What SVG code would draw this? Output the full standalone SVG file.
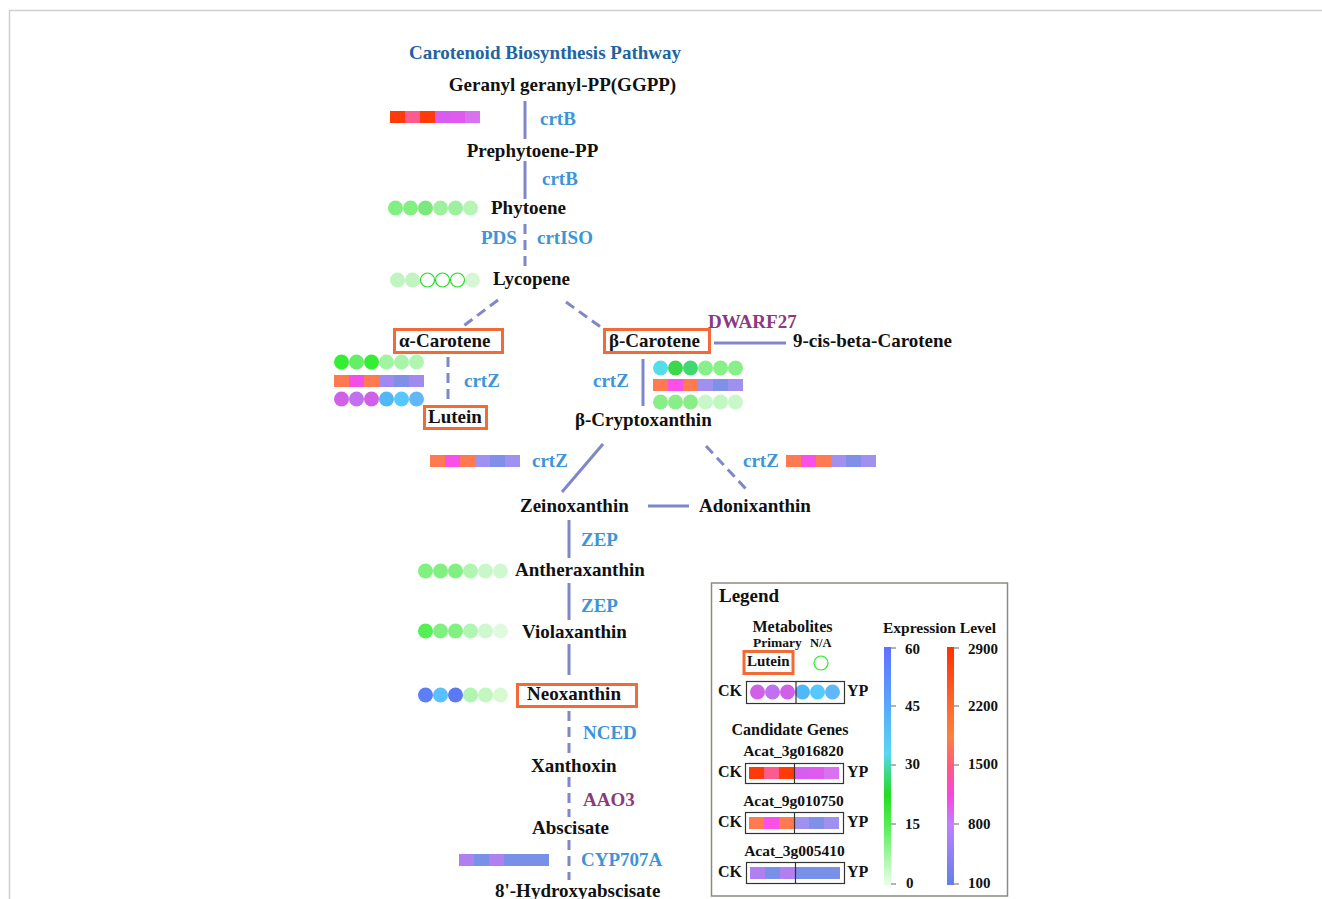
<svg xmlns="http://www.w3.org/2000/svg" width="1322" height="899" viewBox="0 0 1322 899">
<defs>
<style>
.n{font-family:"Liberation Serif",serif;font-weight:bold;font-size:19px;fill:#111}
.e{font-family:"Liberation Serif",serif;font-weight:bold;font-size:19px;fill:#3d95d8}
.p{font-family:"Liberation Serif",serif;font-weight:bold;font-size:19px;fill:#8b3a80}
.l{font-family:"Liberation Serif",serif;font-weight:bold;fill:#111}
.c{stroke:#7f87c8;stroke-width:3;fill:none}
.d{stroke-dasharray:10 6}
.box{fill:none;stroke:#f26a35;stroke-width:3}
.lb{fill:none;stroke:#333;stroke-width:1.2}
.tk{stroke:#666;stroke-width:1}
</style>
<linearGradient id="gb" x1="0" y1="0" x2="0" y2="1">
<stop offset="0" stop-color="#6070ff"/>
<stop offset="0.25" stop-color="#58a8ff"/>
<stop offset="0.45" stop-color="#58d8f0"/>
<stop offset="0.52" stop-color="#40d890"/>
<stop offset="0.62" stop-color="#22dd22"/>
<stop offset="0.75" stop-color="#55ee55"/>
<stop offset="1" stop-color="#eaffea"/>
</linearGradient>
<linearGradient id="gr" x1="0" y1="0" x2="0" y2="1">
<stop offset="0" stop-color="#ff3000"/>
<stop offset="0.25" stop-color="#ff6a30"/>
<stop offset="0.38" stop-color="#ff8040"/>
<stop offset="0.5" stop-color="#ff5a80"/>
<stop offset="0.62" stop-color="#f845e0"/>
<stop offset="0.75" stop-color="#c080ff"/>
<stop offset="1" stop-color="#6080e8"/>
</linearGradient>
</defs>
<rect width="1322" height="899" fill="#fff"/>
<path d="M9.5 899 V10.5 H1322" fill="none" stroke="#cfcfcf" stroke-width="1.5"/>

<text x="545" y="59" text-anchor="middle" style="font-family:'Liberation Serif',serif;font-weight:bold;font-size:19px;fill:#1e64a0">Carotenoid Biosynthesis Pathway</text>

<g id="connectors">
<line class="c" x1="525" y1="101" x2="525" y2="139"/>
<line class="c" x1="525" y1="161" x2="525" y2="199"/>
<line class="c d" x1="525" y1="224" x2="525" y2="267"/>
<line class="c d" x1="498" y1="300" x2="462" y2="327"/>
<line class="c d" x1="566" y1="302" x2="602" y2="328"/>
<line class="c d" x1="448" y1="357" x2="448" y2="400"/>
<line class="c" x1="714" y1="343" x2="786" y2="343"/>
<line class="c" x1="643" y1="359" x2="643" y2="406"/>
<line class="c" x1="603" y1="444" x2="562" y2="492"/>
<line class="c d" x1="706" y1="446" x2="746" y2="489"/>
<line class="c" x1="648" y1="506" x2="689" y2="506"/>
<line class="c" x1="569" y1="520" x2="569" y2="558"/>
<line class="c" x1="569" y1="583" x2="569" y2="620"/>
<line class="c" x1="569" y1="644" x2="569" y2="675"/>
<line class="c d" x1="569" y1="711" x2="569" y2="755"/>
<line class="c d" x1="569" y1="777" x2="569" y2="817"/>
<line class="c d" x1="569" y1="840" x2="569" y2="880"/>
</g>

<g id="enzymes">
<text class="e" x="540" y="125">crtB</text>
<text class="e" x="542" y="185">crtB</text>
<text class="e" x="481" y="244">PDS</text>
<text class="e" x="537" y="244">crtISO</text>
<text class="e" x="464" y="387">crtZ</text>
<text class="p" x="708" y="328">DWARF27</text>
<text class="e" x="593" y="387">crtZ</text>
<text class="e" x="532" y="467">crtZ</text>
<text class="e" x="743" y="467">crtZ</text>
<text class="e" x="581" y="546">ZEP</text>
<text class="e" x="581" y="612">ZEP</text>
<text class="e" x="583" y="739">NCED</text>
<text class="p" x="583" y="806">AAO3</text>
<text class="e" x="581" y="866">CYP707A</text>
</g>

<g id="node-ggpp">
<text class="n" x="562.5" y="91" text-anchor="middle">Geranyl geranyl-PP(GGPP)</text>
<g transform="translate(390,111)">
<rect x="0" width="15" height="12" fill="#ff3a0a"/><rect x="15" width="15" height="12" fill="#ff5a8c"/><rect x="30" width="15" height="12" fill="#ff3b08"/><rect x="45" width="15" height="12" fill="#d85cf0"/><rect x="60" width="15" height="12" fill="#e15af0"/><rect x="75" width="15" height="12" fill="#d872f0"/>
</g>
</g>

<g id="node-prephytoene">
<text class="n" x="532.5" y="157" text-anchor="middle">Prephytoene-PP</text>
</g>

<g id="node-phytoene">
<text class="n" x="491" y="214">Phytoene</text>
<g transform="translate(395.5,208)">
<circle cx="0" r="7.5" fill="#80f080"/><circle cx="15" r="7.5" fill="#80f080"/><circle cx="30" r="7.5" fill="#7ae87a"/><circle cx="45" r="7.5" fill="#9df09d"/><circle cx="60" r="7.5" fill="#9df09d"/><circle cx="75" r="7.5" fill="#b5f5b5"/>
</g>
</g>

<g id="node-lycopene">
<text class="n" x="493" y="285">Lycopene</text>
<g transform="translate(397.5,280)">
<circle cx="0" r="7.5" fill="#c0f5c0"/><circle cx="15" r="7.5" fill="#c0f5c0"/><circle cx="30" r="7" fill="none" stroke="#22dd22" stroke-width="1.2"/><circle cx="45" r="7" fill="none" stroke="#22dd22" stroke-width="1.2"/><circle cx="60" r="7" fill="none" stroke="#22dd22" stroke-width="1.2"/><circle cx="75" r="7.5" fill="#d5f7d5"/>
</g>
</g>

<g id="node-alpha-carotene">
<rect class="box" x="394.5" y="329.5" width="108" height="23"/>
<text class="n" x="399" y="347">α-Carotene</text>
<g transform="translate(341.5,362)">
<circle cx="0" r="7.5" fill="#33ee33"/><circle cx="15" r="7.5" fill="#66ee66"/><circle cx="30" r="7.5" fill="#33ee33"/><circle cx="45" r="7.5" fill="#a0f5a0"/><circle cx="60" r="7.5" fill="#a8f5a8"/><circle cx="75" r="7.5" fill="#b0f5b0"/>
</g>
<g transform="translate(334,375)">
<rect x="0" width="15" height="12" fill="#ff7a50"/><rect x="15" width="15" height="12" fill="#f050e8"/><rect x="30" width="15" height="12" fill="#ff7a50"/><rect x="45" width="15" height="12" fill="#a08af0"/><rect x="60" width="15" height="12" fill="#8090e8"/><rect x="75" width="15" height="12" fill="#a08af0"/>
</g>
<g transform="translate(341.5,399)">
<circle cx="0" r="7.5" fill="#d060e8"/><circle cx="15" r="7.5" fill="#c070f0"/><circle cx="30" r="7.5" fill="#d060e8"/><circle cx="45" r="7.5" fill="#50b8f8"/><circle cx="60" r="7.5" fill="#55c8ff"/><circle cx="75" r="7.5" fill="#60b8f8"/>
</g>
</g>

<g id="node-lutein">
<rect class="box" x="424.5" y="406.5" width="62" height="22"/>
<text class="n" x="428" y="423">Lutein</text>
</g>

<g id="node-beta-carotene">
<rect class="box" x="604.5" y="329.5" width="105" height="23"/>
<text class="n" x="609" y="347">β-Carotene</text>
<g transform="translate(660.5,368)">
<circle cx="0" r="7.5" fill="#55ddee"/><circle cx="15" r="7.5" fill="#3ad84a"/><circle cx="30" r="7.5" fill="#40d870"/><circle cx="45" r="7.5" fill="#88f088"/><circle cx="60" r="7.5" fill="#88f088"/><circle cx="75" r="7.5" fill="#88f088"/>
</g>
<g transform="translate(653,379)">
<rect x="0" width="15" height="12" fill="#ff7a50"/><rect x="15" width="15" height="12" fill="#f850e8"/><rect x="30" width="15" height="12" fill="#ff7a50"/><rect x="45" width="15" height="12" fill="#a090f0"/><rect x="60" width="15" height="12" fill="#8090e8"/><rect x="75" width="15" height="12" fill="#a090f0"/>
</g>
<g transform="translate(660.5,402)">
<circle cx="0" r="7.5" fill="#88ee88"/><circle cx="15" r="7.5" fill="#88ee88"/><circle cx="30" r="7.5" fill="#88ee88"/><circle cx="45" r="7.5" fill="#c8f8c8"/><circle cx="60" r="7.5" fill="#c0f8c0"/><circle cx="75" r="7.5" fill="#c8f8c8"/>
</g>
</g>

<g id="node-9cis">
<text class="n" x="793" y="347">9-cis-beta-Carotene</text>
</g>

<g id="node-beta-cryptoxanthin">
<text class="n" x="575" y="426">β-Cryptoxanthin</text>
<g transform="translate(430,455)">
<rect x="0" width="15" height="12" fill="#ff7a50"/><rect x="15" width="15" height="12" fill="#f850e8"/><rect x="30" width="15" height="12" fill="#ff7a50"/><rect x="45" width="15" height="12" fill="#a090f0"/><rect x="60" width="15" height="12" fill="#8090e8"/><rect x="75" width="15" height="12" fill="#a090f0"/>
</g>
<g transform="translate(786,455)">
<rect x="0" width="15" height="12" fill="#ff7a50"/><rect x="15" width="15" height="12" fill="#f850e8"/><rect x="30" width="15" height="12" fill="#ff7a50"/><rect x="45" width="15" height="12" fill="#a090f0"/><rect x="60" width="15" height="12" fill="#8090e8"/><rect x="75" width="15" height="12" fill="#a090f0"/>
</g>
</g>

<g id="node-zeinoxanthin">
<text class="n" x="520" y="512">Zeinoxanthin</text>
</g>
<g id="node-adonixanthin">
<text class="n" x="699" y="512">Adonixanthin</text>
</g>

<g id="node-antheraxanthin">
<text class="n" x="515" y="576">Antheraxanthin</text>
<g transform="translate(425.5,571)">
<circle cx="0" r="7.5" fill="#80f080"/><circle cx="15" r="7.5" fill="#80f080"/><circle cx="30" r="7.5" fill="#80f080"/><circle cx="45" r="7.5" fill="#b0f5b0"/><circle cx="60" r="7.5" fill="#c8f8c8"/><circle cx="75" r="7.5" fill="#d0f8d0"/>
</g>
</g>

<g id="node-violaxanthin">
<text class="n" x="522" y="638">Violaxanthin</text>
<g transform="translate(425.5,631)">
<circle cx="0" r="7.5" fill="#55ee55"/><circle cx="15" r="7.5" fill="#80f080"/><circle cx="30" r="7.5" fill="#80f080"/><circle cx="45" r="7.5" fill="#b0f5b0"/><circle cx="60" r="7.5" fill="#d0f8d0"/><circle cx="75" r="7.5" fill="#e0fae0"/>
</g>
</g>

<g id="node-neoxanthin">
<rect class="box" x="517.5" y="684.5" width="119" height="22"/>
<text class="n" x="527" y="700">Neoxanthin</text>
<g transform="translate(425.5,695)">
<circle cx="0" r="7.5" fill="#5b80f5"/><circle cx="15" r="7.5" fill="#5bc0ff"/><circle cx="30" r="7.5" fill="#5b78f5"/><circle cx="45" r="7.5" fill="#b0f5b0"/><circle cx="60" r="7.5" fill="#c0f8c0"/><circle cx="75" r="7.5" fill="#d8fad0"/>
</g>
</g>

<g id="node-xanthoxin">
<text class="n" x="531" y="772">Xanthoxin</text>
</g>
<g id="node-abscisate">
<text class="n" x="532" y="834">Abscisate</text>
<g transform="translate(459,854)">
<rect x="0" width="15" height="12" fill="#b080f0"/><rect x="15" width="15" height="12" fill="#7890e8"/><rect x="30" width="15" height="12" fill="#b080f0"/><rect x="45" width="15" height="12" fill="#7890e8"/><rect x="60" width="15" height="12" fill="#7890e8"/><rect x="75" width="15" height="12" fill="#7890e8"/>
</g>
</g>
<g id="node-hydroxyabscisate">
<text class="n" x="495" y="897">8'-Hydroxyabscisate</text>
</g>

<g id="legend">
<rect x="711.5" y="583" width="296" height="313" fill="#fff" stroke="#8a8a80" stroke-width="1.5"/>
<text class="l" x="719" y="602" font-size="19">Legend</text>
<text class="l" x="792.5" y="632" font-size="16" text-anchor="middle">Metabolites</text>
<text class="l" x="753" y="647" font-size="13.5">Primary</text>
<text class="l" x="810" y="647" font-size="12.5">N/A</text>
<rect class="box" x="744" y="651.5" width="49" height="22"/>
<text class="l" x="747" y="666" font-size="15">Lutein</text>
<circle cx="821" cy="663" r="7" fill="none" stroke="#22ee22" stroke-width="1.2"/>
<text class="l" x="718" y="696" font-size="16">CK</text>
<rect class="lb" x="746.5" y="681.5" width="98" height="22"/>
<g transform="translate(757.5,692)">
<circle cx="0" r="7.5" fill="#d060e8"/><circle cx="15" r="7.5" fill="#c070f0"/><circle cx="30" r="7.5" fill="#d060e8"/><circle cx="45" r="7.5" fill="#50b8f8"/><circle cx="60" r="7.5" fill="#55c8ff"/><circle cx="75" r="7.5" fill="#60b8f8"/>
</g>
<line class="lb" x1="796" y1="681.5" x2="796" y2="703.5"/>
<text class="l" x="847" y="696" font-size="16">YP</text>

<text class="l" x="790" y="735" font-size="16" text-anchor="middle">Candidate Genes</text>

<text class="l" x="793.5" y="756" font-size="15.5" text-anchor="middle">Acat_3g016820</text>
<text class="l" x="718" y="777" font-size="16">CK</text>
<g transform="translate(749,767)">
<rect x="0" width="15" height="12" fill="#ff3a0a"/><rect x="15" width="15" height="12" fill="#ff5a8c"/><rect x="30" width="15" height="12" fill="#ff3b08"/><rect x="45" width="15" height="12" fill="#d85cf0"/><rect x="60" width="15" height="12" fill="#e15af0"/><rect x="75" width="15" height="12" fill="#d872f0"/>
</g>
<rect class="lb" x="745.5" y="763.5" width="98" height="20"/>
<line class="lb" x1="794.5" y1="763.5" x2="794.5" y2="783.5"/>
<text class="l" x="847" y="777" font-size="16">YP</text>

<text class="l" x="793.5" y="806" font-size="15.5" text-anchor="middle">Acat_9g010750</text>
<text class="l" x="718" y="827" font-size="16">CK</text>
<g transform="translate(749,817)">
<rect x="0" width="15" height="12" fill="#ff7a50"/><rect x="15" width="15" height="12" fill="#f850e8"/><rect x="30" width="15" height="12" fill="#ff7a50"/><rect x="45" width="15" height="12" fill="#a090f0"/><rect x="60" width="15" height="12" fill="#8090e8"/><rect x="75" width="15" height="12" fill="#a090f0"/>
</g>
<rect class="lb" x="745.5" y="812.5" width="98" height="21"/>
<line class="lb" x1="794.5" y1="812.5" x2="794.5" y2="833.5"/>
<text class="l" x="847" y="827" font-size="16">YP</text>

<text class="l" x="794.5" y="856" font-size="15.5" text-anchor="middle">Acat_3g005410</text>
<text class="l" x="718" y="877" font-size="16">CK</text>
<g transform="translate(750,867)">
<rect x="0" width="15" height="12" fill="#b080f0"/><rect x="15" width="15" height="12" fill="#7890e8"/><rect x="30" width="15" height="12" fill="#b080f0"/><rect x="45" width="15" height="12" fill="#7890e8"/><rect x="60" width="15" height="12" fill="#7890e8"/><rect x="75" width="15" height="12" fill="#7890e8"/>
</g>
<rect class="lb" x="746.5" y="862.5" width="98" height="21"/>
<line class="lb" x1="795.5" y1="862.5" x2="795.5" y2="883.5"/>
<text class="l" x="847" y="877" font-size="16">YP</text>

<text class="l" x="939.5" y="633" font-size="15.5" text-anchor="middle">Expression Level</text>
<rect x="884" y="647" width="7" height="238" fill="url(#gb)"/>
<rect x="947" y="647" width="7" height="238" fill="url(#gr)"/>
<g class="tk">
<line x1="891" y1="648" x2="896" y2="648"/><line x1="891" y1="706" x2="896" y2="706"/><line x1="891" y1="765" x2="896" y2="765"/><line x1="891" y1="824" x2="896" y2="824"/><line x1="891" y1="884" x2="896" y2="884"/>
<line x1="954" y1="648" x2="959" y2="648"/><line x1="954" y1="706" x2="959" y2="706"/><line x1="954" y1="765" x2="959" y2="765"/><line x1="954" y1="824" x2="959" y2="824"/><line x1="954" y1="884" x2="959" y2="884"/>
</g>
<g class="l" font-size="15">
<text x="905" y="654">60</text><text x="905" y="711">45</text><text x="905" y="769">30</text><text x="905" y="829">15</text><text x="906" y="888">0</text>
<text x="968" y="654">2900</text><text x="968" y="711">2200</text><text x="968" y="769">1500</text><text x="968" y="829">800</text><text x="968" y="888">100</text>
</g>
</g>
</svg>
